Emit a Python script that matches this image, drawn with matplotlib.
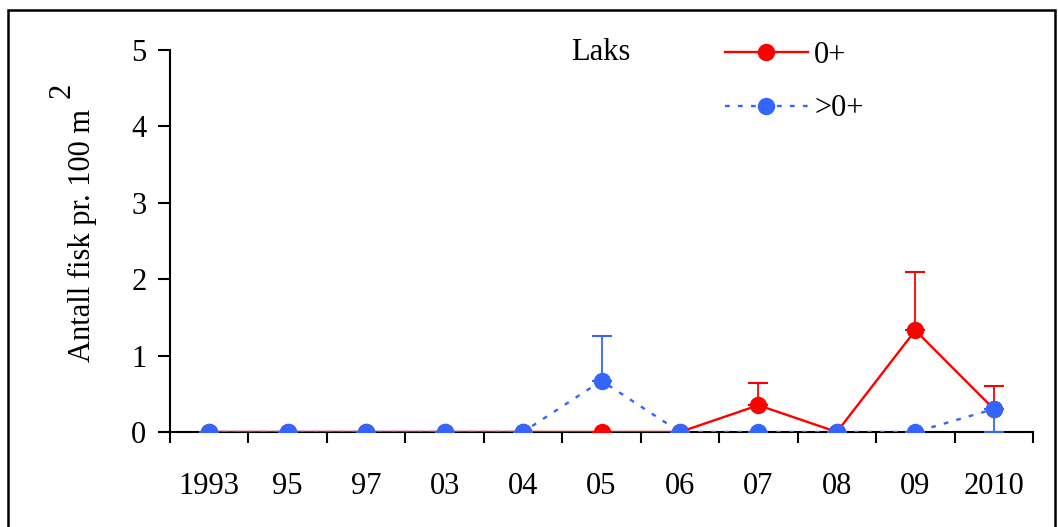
import numpy as np
import matplotlib.pyplot as plt
from matplotlib.patches import Rectangle
from matplotlib.lines import Line2D

plt.rcParams['font.family'] = ['Liberation Serif', 'DejaVu Serif']

years = ['1993', '95', '97', '03', '04', '05', '06', '07', '08', '09', '2010']

# 0+ laks
fry = [0, 0, 0, 0, 0, 0, 0, 0.35, 0, 1.33, 0.30]
fry_up = [0, 0, 0, 0, 0, 0, 0, 0.29, 0, 0.77, 0.30]
fry_lo = [0] * 11

# >0+ laks
parr = [0, 0, 0, 0, 0, 0.67, 0, 0, 0, 0, 0.30]
parr_up = [0, 0, 0, 0, 0, 0.59, 0, 0, 0, 0, 0]
parr_lo = [0, 0, 0, 0, 0, 0, 0, 0, 0, 0, 0.30]

red = '#ff0000'
blue = '#3366ff'
fs = 22

fig = plt.figure(figsize=(10.58, 5.27), dpi=100)
ax = fig.add_axes([0.1607, 0.1803, 0.8157, 0.7249])

x = np.arange(len(years))

ax.errorbar(x, fry, yerr=[fry_lo, fry_up], color=red, lw=1.7, marker='o',
            ms=11.5, ecolor=red, elinewidth=1.3, capsize=7, capthick=1.5,
            zorder=3)
ax.errorbar(x, parr, yerr=[parr_lo, parr_up], color=blue, lw=1.7,
            ls=(0, (2, 3.5)), marker='o', ms=11.5, ecolor=blue,
            elinewidth=1.3, capsize=7, capthick=1.5, zorder=4)

ax.set_xlim(-0.5, len(years) - 0.5)
ax.set_ylim(0, 5)
ax.set_yticks(range(6))
ax.set_xticks(np.arange(-0.5, len(years), 1))
ax.set_xticklabels([])
ax.set_xticks(x, minor=True)
ax.set_xticklabels(years, minor=True)
ax.tick_params(axis='x', which='major', direction='out', length=8, width=1.5)
ax.tick_params(axis='x', which='minor', length=0, pad=29, labelsize=fs)
ax.tick_params(axis='y', direction='out', length=9, width=1.5, pad=8, labelsize=fs)

for s in ['top', 'right']:
    ax.spines[s].set_visible(False)
for s in ['left', 'bottom']:
    ax.spines[s].set_linewidth(1.5)

fig.text(82 / 1058, 1 - 235 / 527, 'Antall fisk pr. 100 m', rotation=90,
         ha='center', va='center', fontsize=fs)
fig.text(62 / 1058, 1 - 90 / 527, '2', rotation=90,
         ha='center', va='center', fontsize=fs)

fig.text(601 / 1058, 1 - 52 / 527, 'Laks', ha='center', va='center', fontsize=fs)

handles = [Line2D([], [], color=red, lw=1.7, marker='o', ms=11.5),
           Line2D([], [], color=blue, lw=1.7, ls=(0, (2, 3.5)), marker='o', ms=11.5)]
ax.legend(handles, ['0+', '>0+'], loc='upper left',
          bbox_to_anchor=(725 / 1058, 1 - 41 / 527),
          bbox_transform=fig.transFigure, frameon=False, fontsize=fs,
          handlelength=2.7, handletextpad=0.22, labelspacing=0.8,
          borderpad=0, borderaxespad=0)

# outer frame
fig.patches.append(Rectangle((8 / 1058, -0.05), (1055 - 8) / 1058, 1.05 - 10 / 527,
                             transform=fig.transFigure, fill=False,
                             edgecolor='black', lw=1.8))

fig.savefig('out.png', dpi=100)
